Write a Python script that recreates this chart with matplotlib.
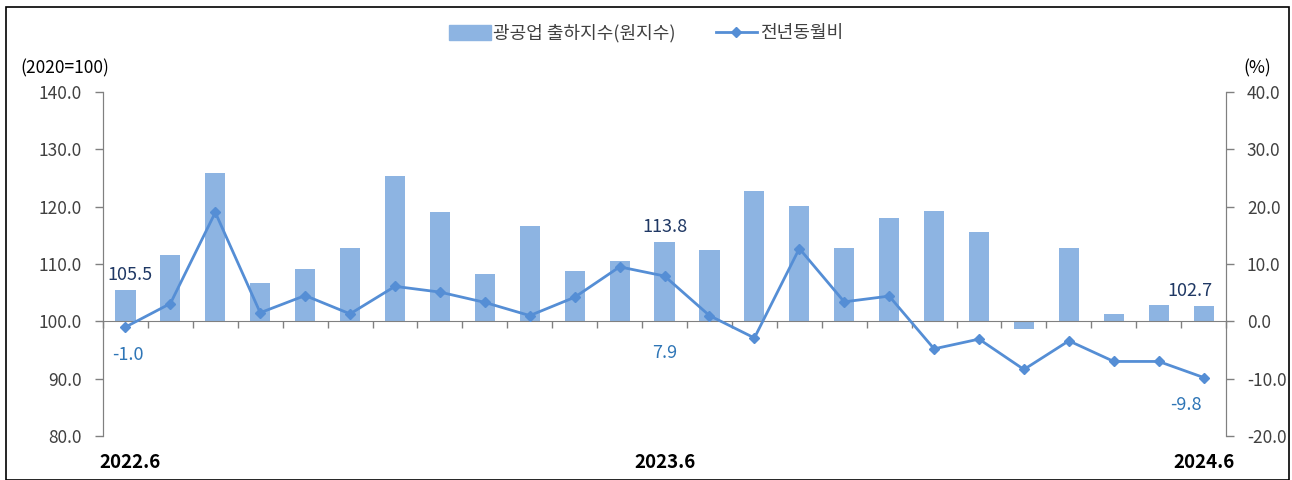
import numpy as np
import matplotlib
matplotlib.use("Agg")
import matplotlib.pyplot as plt
import matplotlib.transforms as mtransforms
from matplotlib.patches import Rectangle
from matplotlib.lines import Line2D

plt.rcParams['font.family'] = ['Noto Sans CJK KR', 'DejaVu Sans']

# 데이터 (2022.6 ~ 2024.6)
months = ['2022.6', '2022.7', '2022.8', '2022.9', '2022.10', '2022.11', '2022.12',
          '2023.1', '2023.2', '2023.3', '2023.4', '2023.5', '2023.6', '2023.7',
          '2023.8', '2023.9', '2023.10', '2023.11', '2023.12', '2024.1', '2024.2',
          '2024.3', '2024.4', '2024.5', '2024.6']
index_values = [105.5, 111.5, 125.9, 106.6, 109.1, 112.8, 125.4, 119.0, 108.3, 116.7,
                108.8, 110.5, 113.8, 112.5, 122.7, 120.2, 112.8, 118.0, 119.3, 115.5,
                98.7, 112.8, 101.3, 102.9, 102.7]
yoy_values = [-1.0, 3.1, 19.0, 1.5, 4.5, 1.3, 6.1, 5.1, 3.3, 1.0, 4.2, 9.5, 7.9,
              1.0, -2.9, 12.7, 3.4, 4.4, -4.8, -3.1, -8.4, -3.4, -7.0, -7.0, -9.8]
shown_months = ['2022.6', '2023.6', '2024.6']
label_idx = [0, 12, 24]

bar_color = '#8db4e2'
line_color = '#558ed5'
navy = '#1f3864'
label_blue = '#2e75b6'
tick_color = '#404040'

fig = plt.figure(figsize=(12.92, 4.8), dpi=100)
ax = fig.add_axes([0.0797, 0.0917, 0.8693, 0.7166])
ax2 = ax.twinx()

x = np.arange(len(months))
base = 100.0
ax.bar(x, np.array(index_values) - base, bottom=base, width=0.45,
       color=bar_color, zorder=2)
ax2.plot(x, yoy_values, color=line_color, lw=2, marker='D', ms=5.5,
         markerfacecolor=line_color, markeredgecolor=line_color, zorder=3)

ax.set_xlim(-0.5, len(months) - 0.5)
ax.set_ylim(80, 140)
ax.set_yticks(np.arange(80, 141, 10))
ax.set_yticklabels([f'{v:.1f}' for v in np.arange(80, 141, 10)])
ax2.set_ylim(-20, 40)
ax2.set_yticks(np.arange(-20, 41, 10))
ax2.set_yticklabels([f'{v:.1f}' for v in np.arange(-20, 41, 10)])

for a in (ax, ax2):
    a.spines['top'].set_visible(False)
    a.spines['left'].set_color('#808080')
    a.spines['right'].set_color('#808080')
    a.tick_params(axis='y', colors='#808080', labelcolor=tick_color,
                  labelsize=12.5, length=6, width=1, pad=9)
ax2.spines['bottom'].set_visible(False)

# x축 선은 100 위치
ax.spines['bottom'].set_position(('data', 100))
ax.spines['bottom'].set_color('#808080')
ax.set_xticks(np.arange(-0.5, len(months), 1.0))
ax.set_xticklabels([])
ax.tick_params(axis='x', colors='#808080', length=5, width=1, direction='out')

trans = mtransforms.blended_transform_factory(ax.transData, fig.transFigure)
month_label_dx = [0.1, 0.0, 0.0]
for k, m in enumerate(shown_months):
    i = months.index(m)
    ax.text(i + month_label_dx[k], 0.037, m, transform=trans, ha='center',
            va='center', fontsize=13.5, fontweight='bold', color='#000000')

# 데이터 레이블 (위치 오프셋만 지정)
bar_label_dx = [0.1, 0.0, -0.3]
yoy_label_dx = [0.05, 0.0, -0.4]
yoy_label_dy = [-3.3, -11.8, -3.3]
for k, i in enumerate(label_idx):
    ax.text(i + bar_label_dx[k], index_values[i] + 1.0, f'{index_values[i]:.1f}',
            ha='center', va='bottom', fontsize=13, color=navy)
    ax2.text(i + yoy_label_dx[k], yoy_values[i] + yoy_label_dy[k],
             f'{yoy_values[i]:.1f}', ha='center', va='top', fontsize=13,
             color=label_blue)

fig.text(0.0155, 0.858, '(2020=100)', fontsize=12.5, color='#000000',
         ha='left', va='center')
fig.text(0.962, 0.858, '(%)', fontsize=12.5, color='#000000',
         ha='left', va='center')

handles = [Rectangle((0, 0), 1, 1, color=bar_color),
           Line2D([0], [0], color=line_color, lw=2, marker='D', ms=5.5)]
fig.legend(handles, ['광공업 출하지수(원지수)', '전년동월비'], loc='center',
           bbox_to_anchor=(0.5, 0.931), ncol=2, frameon=False, fontsize=13,
           handlelength=2.3, handleheight=0.9, handletextpad=0.15,
           columnspacing=2.2, labelcolor='#404040')

fig.patches.append(Rectangle((0.005, 0.0), 0.993, 0.985, transform=fig.transFigure,
                             fill=False, edgecolor='#000000', lw=1.2))

fig.savefig('out.png', dpi=100)
